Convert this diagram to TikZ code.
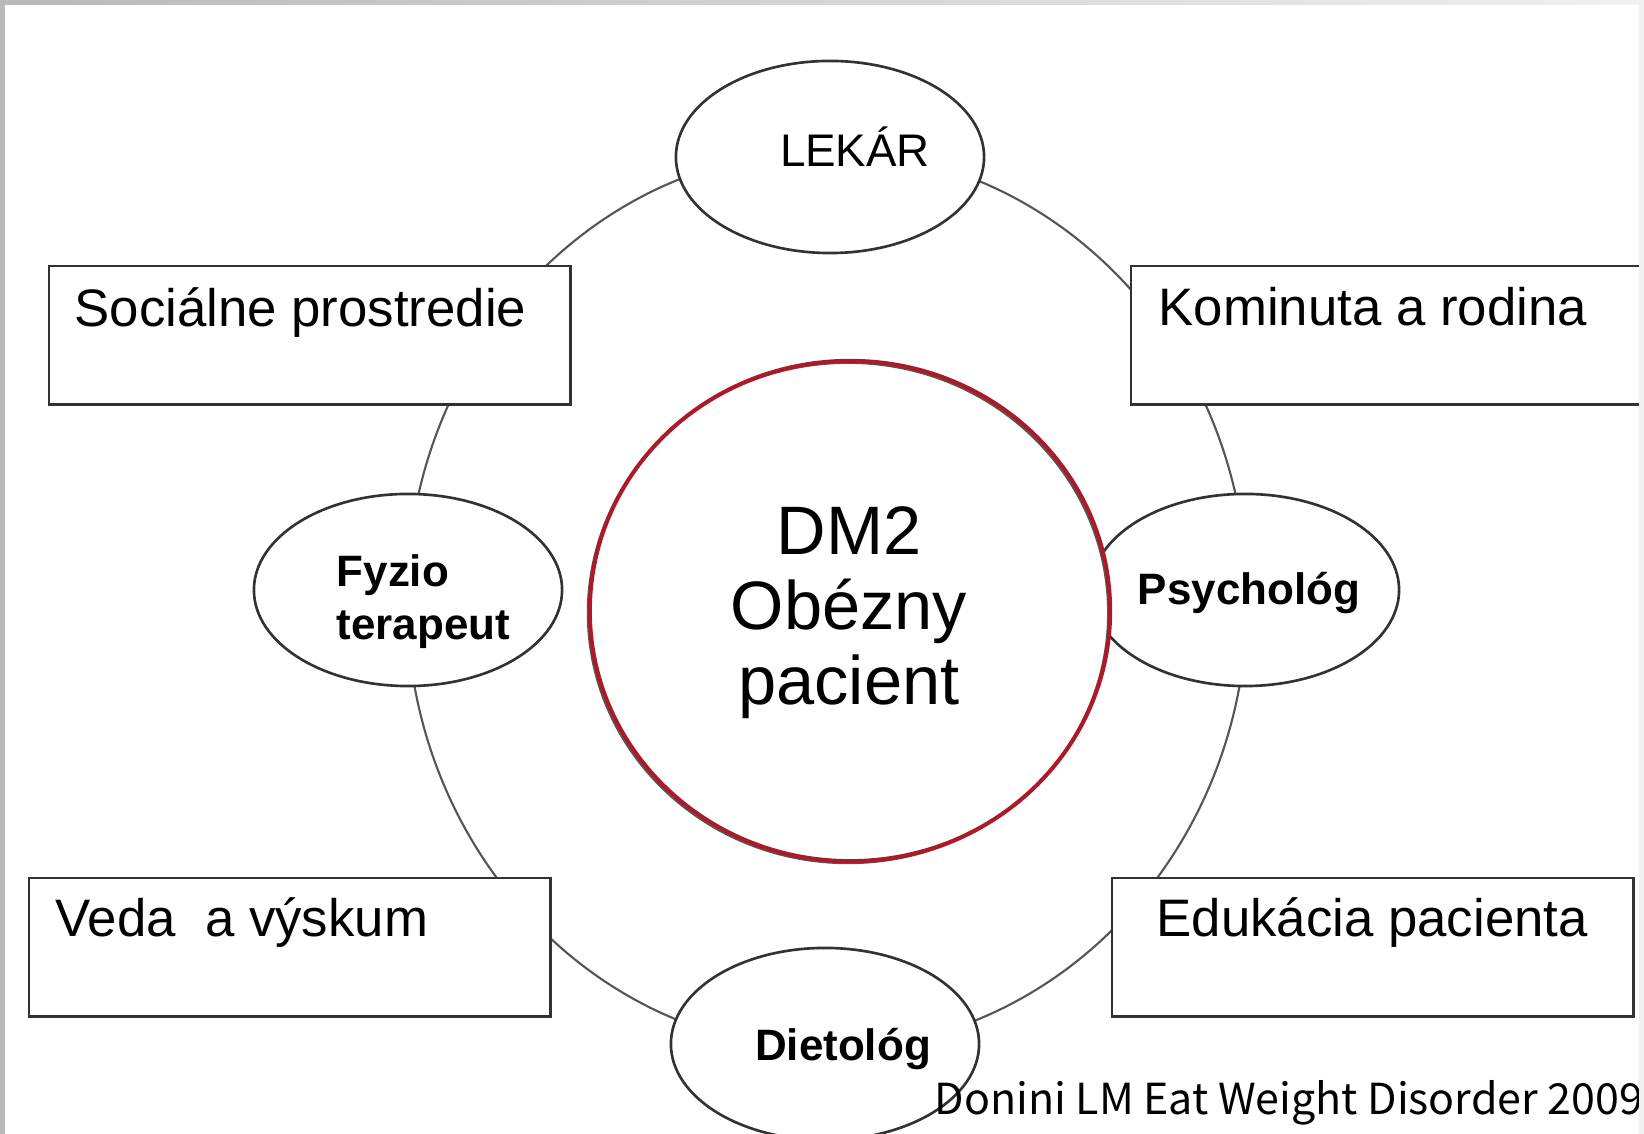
\documentclass[tikz,border=0pt]{standalone}
\usepackage{fontspec}
\setmainfont{Liberation Sans}
\newfontfamily\srcfont{Noto Sans CJK KR}
\usetikzlibrary{shapes.geometric}
\definecolor{ringgray}{RGB}{85,85,85}
\definecolor{edgegray}{RGB}{50,50,50}
\definecolor{dmred}{RGB}{172,26,40}
\definecolor{framegray}{RGB}{185,185,185}
\definecolor{framelight}{RGB}{240,240,240}
\begin{document}
\begin{tikzpicture}[x=0.01cm,y=-0.01cm,
  oval/.style={ellipse, draw=edgegray, line width=0.75pt, fill=white,
    minimum width=3.08cm, minimum height=1.92cm, inner sep=0pt},
  infobox/.style={rectangle, draw=edgegray, line width=0.7pt, fill=white,
    anchor=north west, minimum width=5.21cm, minimum height=1.38cm, inner sep=0pt},
  boxtext/.style={anchor=base west, inner sep=0pt, font=\fontsize{15}{18}\selectfont},
  ovaltext/.style={anchor=base, inner sep=0pt, font=\fontsize{12.5}{15}\selectfont\bfseries},
]
\useasboundingbox (0,0) rectangle (1644,1134);
\fill[white] (0,0) rectangle (1644,1134);

% ring through the satellite nodes
\coordinate (ringc) at (827,600);
\draw[ringgray, line width=0.6pt] (ringc) ellipse [x radius=4.2cm, y radius=4.49cm];

% psychologist ellipse lies partly under the centre circle
\node[oval] (psych) at (1245,590) {};

% centre
\node[ellipse, draw=ringgray, line width=0.6pt, fill=white, minimum width=5.2cm, minimum height=5.0cm, inner sep=0pt] (dmgray) at (848,613) {};
\node[ellipse, draw=dmred, line width=1.15pt, minimum width=5.2cm, minimum height=5.0cm, inner sep=0pt] (dm) at (850,611) {};
\node[align=center, inner sep=0pt, font=\fontsize{19.5}{21.3}\selectfont] (dmtext) at (849,613) {DM2\\Obézny\\pacient};

% ellipses
\node[ovaltext] (psychtext) at (1249,605) {Psychológ};
\node[oval] (lekar) at (830,157) {};
\node[anchor=base, inner sep=0pt, font=\fontsize{13}{15}\selectfont] (lekartext) at (855,167) {LEKÁR};
\node[oval] (fyzio) at (408,590) {};
\node[anchor=west, align=left, inner sep=0pt, font=\fontsize{12.5}{15.1}\selectfont\bfseries] (fyziotext) at (336,602) {Fyzio\\terapeut};
\node[oval] (diet) at (825,1044) {};
\node[ovaltext] (diettext) at (843,1061) {Dietológ};

% boxes
\node[infobox] (soc) at (48,265) {};
\node[boxtext] (soctext) at (74,327) {Sociálne prostredie};
\node[infobox, minimum width=5.2cm] (kom) at (1130,265) {};
\node[boxtext] (komtext) at (1158,326) {Kominuta a rodina};
\node[infobox] (veda) at (28,877) {};
\node[boxtext] (vedatext) at (55,937) {Veda\ \ a výskum};
\node[infobox] (edu) at (1111,877) {};
\node[boxtext] (edutext) at (1156,937) {Edukácia pacienta};

% source
\node[anchor=base west, inner sep=0pt] (src) at (934,1115)
  {\resizebox{7.08cm}{0.34cm}{\srcfont Donini LM Eat Weight Disorder 2009}};

% frame
\fill[framelight] (1639,0) rectangle (1644,1134);
\shade[left color=framegray, right color=framelight] (0,0) rectangle (1644,5);
\fill[framegray] (0,0) rectangle (5,1134);
\end{tikzpicture}
\end{document}
